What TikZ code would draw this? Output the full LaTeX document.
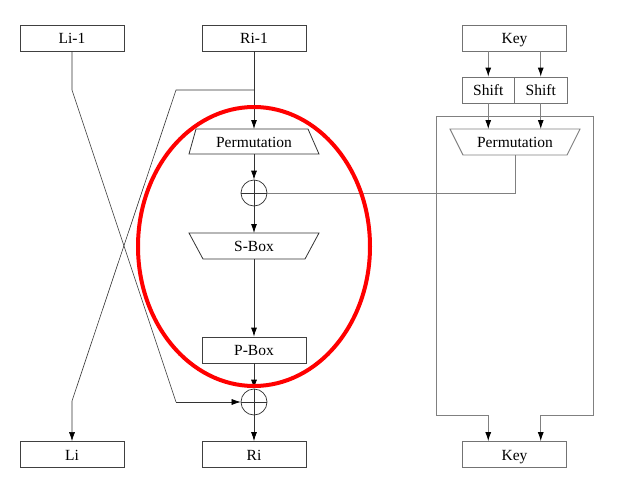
\documentclass[tikz,border=0pt]{standalone}
\usepackage{fontspec}
\setmainfont{Liberation Serif}
\usetikzlibrary{arrows.meta,shapes.geometric}
\begin{document}
\begin{tikzpicture}[x=1pt,y=-1pt,
  ln/.style={draw=black!80,line width=0.8pt},
  lg/.style={draw=black!50,line width=0.9pt},
  arr/.style={-{Latex[length=9pt,width=6pt,color=black]}},
  boxd/.style={draw=black!75,line width=0.8pt,minimum width=104pt,minimum height=26pt,inner sep=0pt,text height=12pt,text depth=0.5pt,font=\fontsize{15.5}{15.5}\selectfont},
  boxg/.style={boxd,draw=black!55},
  xorc/.style={circle,draw=black!80,line width=0.7pt,minimum size=26pt,inner sep=0pt},
  txt/.style={font=\fontsize{15.5}{15.5}\selectfont,inner sep=0pt,text height=12pt,text depth=0.5pt}]
\useasboundingbox (0,0) rectangle (622,479);
\fill[white] (0,0) rectangle (622,479);
% boxes
\node[boxd] (L1) at (72,38) {Li-1};
\node[boxd] (R1) at (254,38) {Ri-1};
\node[boxd] (L) at (72,454.5) {Li};
\node[boxd] (R) at (254,454.5) {Ri};
\node[boxd] (PB) at (254,350) {P-Box};
\node[boxg] (K1) at (514.5,38) {Key};
\node[boxg] (K2) at (514.5,454.5) {Key};
\node[boxg,minimum width=52.5pt] (S1) at (488.25,90) {Shift};
\node[boxg,minimum width=52.5pt] (S2) at (540.75,90) {Shift};
% trapezoids
\draw[ln] (196,129) -- (308,129) -- (319,154) -- (189,154) -- cycle;
\node[txt] (P1) at (254,142) {Permutation};
\coordinate (P1t) at (254,129);
\coordinate (P1b) at (254,154);
\draw[ln] (189,233) -- (319,233) -- (305,259) -- (203,259) -- cycle;
\node[txt] (SB) at (254,246) {S-Box};
\coordinate (SBt) at (254,233);
\coordinate (SBb) at (254,259);
\draw[lg] (450,129) -- (580,129) -- (567,155) -- (463,155) -- cycle;
\node[txt] (P2) at (515,142) {Permutation};
\coordinate (P2b) at (515,155);
\coordinate (P2l) at (488.25,129);
\coordinate (P2r) at (540.75,129);
% xor
\node[xorc] (X1) at (254,193) {};
\node[xorc] (X2) at (254,402) {};
\draw[ln,line width=0.6pt] (X1.north) -- (X1.south) (X1.west) -- (X1.east);
\draw[ln,line width=0.6pt] (X2.north) -- (X2.south) (X2.west) -- (X2.east);
% main column
\draw[ln,arr] (R1.south) -- (P1t);
\draw[ln,arr] (P1b) -- (X1.north);
\draw[ln,arr] (X1.south) -- (SBt);
\draw[ln,arr] (SBb) -- (PB.north);
\draw[ln,arr] (PB.south) -- (X2.north);
\draw[ln,arr] (X2.south) -- (R.north);
% crossing
\coordinate (br) at (254,90);
\draw[ln,line width=0.6pt] (L1.south) -- (72,90) -- (176,402) coordinate (cr);
\draw[ln,line width=0.6pt,arr] (cr) -- (X2.west);
\draw[ln,line width=0.6pt,arr] (br) -- (176,90) -- (72,401) -- (L.north);
% key side
\draw[lg,arr] (K1.south-|S1) -- (S1.north);
\draw[lg,arr] (K1.south-|S2) -- (S2.north);
\draw[lg,arr] (S1.south) -- (P2l);
\draw[lg,arr] (S2.south) -- (P2r);
\draw[lg] (P2b) -- (515,193) -- (X1.east);
\draw[lg,arr] (436,116) -- (593,116) -- (593,415) -- (540.75,415) -- (K2.north-|S2);
\draw[lg,arr] (436,116) -- (436,415) -- (488.25,415) -- (K2.north-|S1);
% red ellipse
\draw[red,line width=4pt] (254,246.5) ellipse [x radius=116pt,y radius=139.5pt];
\end{tikzpicture}
\end{document}
